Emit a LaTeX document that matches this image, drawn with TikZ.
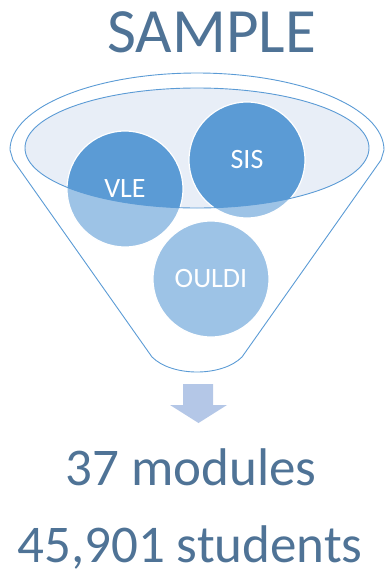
\documentclass[tikz,border=0pt]{standalone}
\usepackage{fontspec}
\setmainfont{Carlito}
\usepackage{tikz}
\definecolor{TitleBlue}{RGB}{79,115,150}
\definecolor{RimLine}{RGB}{91,155,213}
\definecolor{RimFill}{RGB}{232,238,247}
\definecolor{DarkBall}{RGB}{91,155,213}
\definecolor{LightBall}{RGB}{157,195,230}
\definecolor{ArrowBlue}{RGB}{180,199,231}
\tikzset{
  funnelline/.style={RimLine,line width=0.9pt},
  ball/.style={circle,minimum size=116pt,inner sep=0pt,fill=LightBall,draw=white,line width=1.2pt,
    text=white,font=\fontsize{28}{32}\selectfont,
    path picture={\fill[DarkBall] (rimc) ellipse [x radius=172pt,y radius=60pt];}},
  bigtext/.style={TitleBlue,anchor=base,inner sep=0pt,font=\fontsize{53}{60}\selectfont}
}

\begin{document}
\begin{tikzpicture}[x=1pt,y=-1pt]
		\useasboundingbox (0,0) rectangle (385,576);

		% title
		\node[TitleBlue,anchor=base,inner sep=0pt,font=\fontsize{63}{70}\selectfont] (title) at (211.5,52) {SAMPLE};

		% funnel body
		\draw[funnelline] (13,160) -- (152,357) .. controls (172,377) and (222,377) .. (242,357)
			-- (381,160) -- (384,150) arc[start angle=0,end angle=-180,x radius=187,y radius=77] -- cycle;

		% rim of the funnel
		\coordinate (rimc) at (197,148);
		\fill[RimFill] (rimc) ellipse [x radius=172,y radius=60];

		% data sources
		\node[ball] (vle) at (125,189) {VLE};
		\node[ball] (sis) at (247,160) {SIS};
		\node[ball] (ouldi) at (211,279) {OULDI};

		% rim outline over the balls
		\draw[funnelline] (rimc) ellipse [x radius=172,y radius=60];

		% down arrow
		\fill[ArrowBlue] (183,384) -- (213,384) -- (213,405) -- (227,405) -- (198.5,423)
			-- (170,405) -- (183,405) -- cycle;

		% result
		\node[bigtext] (modules) at (191,485) {37 modules};
		\node[bigtext] (students) at (190,562) {45,901 students};

	\end{tikzpicture}
\end{document}
